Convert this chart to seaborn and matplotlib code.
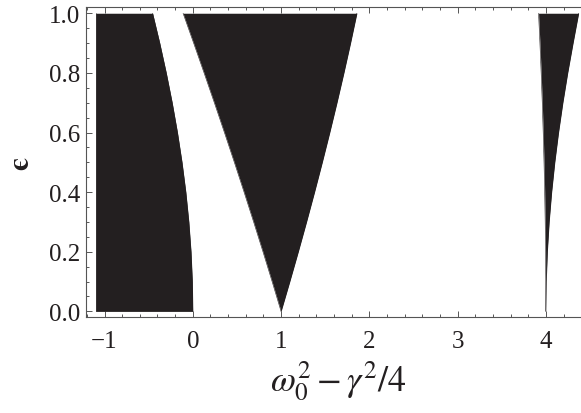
import matplotlib
matplotlib.use("Agg")
import matplotlib.pyplot as plt
import numpy as np
import pandas as pd
import seaborn as sns
from matplotlib.ticker import MultipleLocator

# Stability chart of the damped Mathieu oscillator: black = parametric instability
eps = [0.0, 0.1, 0.2, 0.3, 0.4, 0.5, 0.6, 0.7, 0.8, 0.9, 1.0]

# region left of the first stability boundary (from the start of the detuning range)
detuning_start = -1.1
a0 = [0.0, -0.0050, -0.0199, -0.0446, -0.0786, -0.1218, -0.1735, -0.2331, -0.3003, -0.3742, -0.4551]

# first resonance tongue, centred on 1
b1 = [1.0, 0.8988, 0.7951, 0.6892, 0.5810, 0.4707, 0.3583, 0.2439, 0.1276, 0.0095, -0.1102]
a1 = [1.0, 1.0987, 1.1949, 1.2883, 1.3790, 1.4668, 1.5516, 1.6333, 1.7118, 1.7871, 1.8591]

# second resonance tongue, centred on 4
b2 = [4.0, 3.9992, 3.9967, 3.9925, 3.9867, 3.9792, 3.9700, 3.9593, 3.9468, 3.9327, 3.9170]
a2 = [4.0, 4.0042, 4.0166, 4.0371, 4.0653, 4.1009, 4.1434, 4.1924, 4.2474, 4.3080, 4.3713]

x_ticks = [-1, 0, 1, 2, 3, 4]
y_ticks = [0.0, 0.2, 0.4, 0.6, 0.8, 1.0]

FILL = "#231f20"
AXIS = "#555555"

sns.set_theme(style="white")
plt.rcParams["font.family"] = ["Liberation Serif", "DejaVu Serif"]
plt.rcParams["mathtext.fontset"] = "stix"

fig = plt.figure(figsize=(5.81, 4.14), dpi=100)
# the frame runs past the right edge of the canvas
ax = fig.add_axes([0.148, 0.231, 0.869, 0.749])

regions = [
    ([detuning_start] * len(eps), a0),
    (b1, a1),
    (b2, a2),
]
for k, (lo, hi) in enumerate(regions):
    ax.fill_betweenx(eps, lo, hi, color=FILL, linewidth=0)
    edges = pd.DataFrame({"eps": eps * 2, "x": list(lo) + list(hi),
                          "side": ["lo"] * len(eps) + ["hi"] * len(eps)})
    sns.lineplot(data=edges, x="x", y="eps", units="side", estimator=None,
                 orient="y", color=FILL, linewidth=0.4, ax=ax, legend=False)

ax.set_xlim(-1.21, 4.51)
ax.set_ylim(-0.02, 1.02)
ax.set_xticks(x_ticks)
ax.set_xticklabels([f"{t}".replace("-", "\u2212") for t in x_ticks])
ax.set_yticks(y_ticks)
ax.set_yticklabels([f"{t:.1f}" for t in y_ticks])
ax.xaxis.set_minor_locator(MultipleLocator(0.2))
ax.yaxis.set_minor_locator(MultipleLocator(0.05))

ax.tick_params(which="both", direction="in", color=AXIS, width=0.7,
               top=True, bottom=True, left=True, right=False,
               labeltop=False, labelright=False)
ax.tick_params(which="major", length=4.0)
ax.tick_params(which="minor", length=2.5)
ax.tick_params(axis="x", which="major", labelsize=18, pad=9, labelcolor=FILL)
ax.tick_params(axis="y", which="major", labelsize=18, pad=4, labelcolor=FILL)

for side in ["left", "bottom", "top"]:
    ax.spines[side].set_color(AXIS)
    ax.spines[side].set_linewidth(0.8)
ax.spines["right"].set_visible(False)

ax.set_xlabel(r"$\omega_0^2-\gamma^2/4$", fontsize=26, color=FILL, labelpad=5)
ax.set_ylabel("\u03f5", fontsize=21, fontweight="bold", color=FILL,
              family=["STIXGeneral", "DejaVu Serif"], labelpad=11)

fig.savefig("out.png", dpi=100)
